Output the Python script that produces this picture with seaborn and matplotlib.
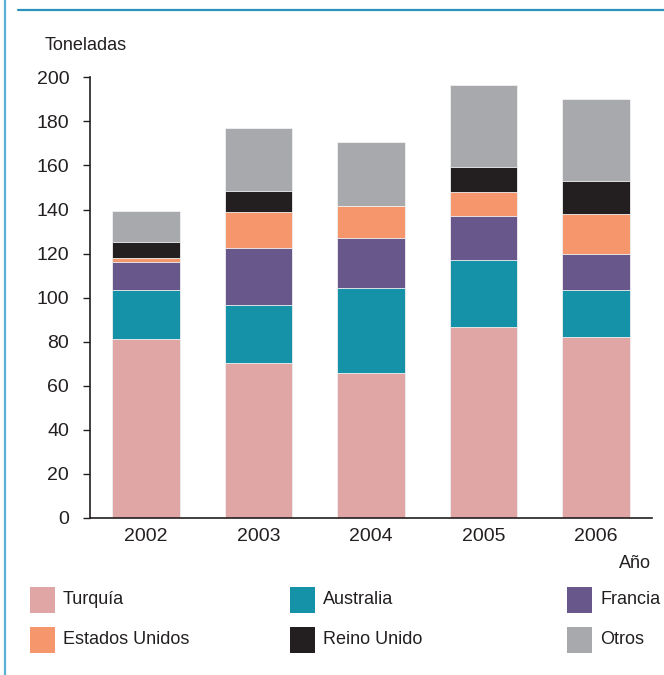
import matplotlib

matplotlib.use("Agg")
import matplotlib.pyplot as plt
import pandas as pd
import seaborn as sns
from matplotlib.lines import Line2D
from matplotlib.patches import Rectangle

# datos (toneladas)
years = ["2002", "2003", "2004", "2005", "2006"]
countries = ["Turquía", "Australia", "Francia", "Estados Unidos", "Reino Unido", "Otros"]
turquia = [81.2, 70.3, 65.7, 86.7, 82.1]
australia = [22.1, 26.4, 38.5, 30.5, 21.3]
francia = [12.8, 25.8, 22.8, 20.0, 16.5]
estados_unidos = [1.8, 16.3, 14.7, 10.9, 18.0]
reino_unido = [7.3, 9.4, 0.0, 11.2, 14.9]
otros = [14.2, 28.9, 28.9, 37.1, 37.2]
colors = ["#e0a6a6", "#1592a8", "#67578a", "#f5966c", "#231f20", "#a8a9ad"]
legend_order = ["Turquía", "Australia", "Francia", "Estados Unidos", "Reino Unido", "Otros"]

sns.set_style("white")
plt.rcParams["font.family"] = ["Liberation Sans Narrow", "Liberation Sans", "DejaVu Sans"]

df = pd.DataFrame(
    {
        "year": years,
        "Turquía": turquia,
        "Australia": australia,
        "Francia": francia,
        "Estados Unidos": estados_unidos,
        "Reino Unido": reino_unido,
        "Otros": otros,
    }
)
cum = df[countries].cumsum(axis=1)
cum["year"] = df["year"]

fig = plt.figure(figsize=(6.64, 6.75), dpi=100)
ax = fig.add_axes([90 / 664, 1 - 518 / 675, (652 - 90) / 664, (518 - 77.3) / 675])

# apilado: se dibuja desde el total hacia abajo
for name, col in reversed(list(zip(countries, colors))):
    sns.barplot(
        data=cum, x="year", y=name, order=years, color=col, saturation=1,
        width=0.6, ax=ax, edgecolor="#f2f2f2", linewidth=0.6,
    )

ax.set_xlim(-0.5, 4.5)
ax.set_ylim(0, 200)
ax.set_yticks(range(0, 201, 20))
ax.set_xlabel("")
ax.set_ylabel("")
ax.set_xticks(range(5))
ax.set_xticklabels(years)
ax.set_xticks([i - 0.5 for i in range(6)], minor=True)
ax.tick_params(axis="x", which="major", length=0, pad=7, labelsize=14, colors="#231f20")
ax.tick_params(axis="x", which="minor", length=6, width=1, color="#231f20", direction="out")
ax.tick_params(axis="y", length=5, width=1, color="#231f20", direction="out", pad=10,
               labelsize=14, labelcolor="#231f20", left=True)
for s in ["top", "right"]:
    ax.spines[s].set_visible(False)
for s in ["left", "bottom"]:
    ax.spines[s].set_color("#231f20")
    ax.spines[s].set_linewidth(1.2)

fig.text(45 / 664, 1 - 45 / 675, "Toneladas", fontsize=13, va="center", color="#231f20")
fig.text(651 / 664, 1 - 563 / 675, "Año", fontsize=13, va="center", ha="right", color="#231f20")

# marco
fig.add_artist(Line2D([18 / 664, 1], [1 - 10 / 675] * 2, color="#2b93bd", lw=1.6))
fig.add_artist(Line2D([5 / 664] * 2, [0, 1], color="#5ab0d5", lw=1.6))

# leyenda manual
pos = [(30, 600), (290, 600), (567, 600), (30, 640), (290, 640), (567, 640)]
for (px, py), name in zip(pos, legend_order):
    col = colors[countries.index(name)]
    fig.add_artist(Rectangle((px / 664, 1 - (py + 13) / 675), 25 / 664, 26 / 675,
                             facecolor=col, edgecolor="none", transform=fig.transFigure))
    fig.text((px + 33) / 664, 1 - py / 675, name, fontsize=13, va="center", color="#231f20")

fig.savefig("out.png", dpi=100)
